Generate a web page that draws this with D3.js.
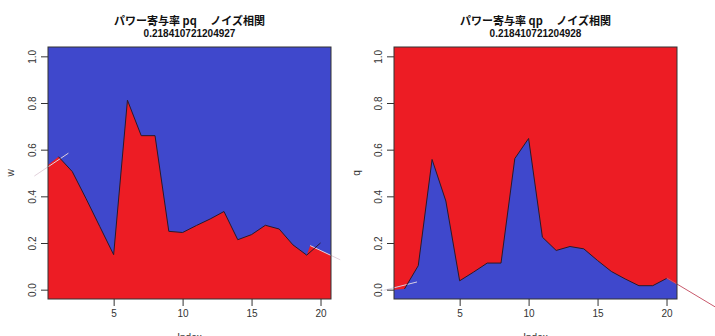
<!DOCTYPE html>
<html>
<head>
<meta charset="utf-8" />
<title>パワー寄与率</title>
<script src="https://d3js.org/d3.v7.min.js"></script>
<style>
  body { margin: 0; background: #fff; }
  .tick text { font-family: "Liberation Sans", Arial, sans-serif; font-size: 10px; fill: #333; }
  .title { font-family: "Noto Sans CJK JP", sans-serif; font-weight: bold; font-size: 11px; fill: #111; }
  .sub { font-family: "Liberation Sans", Arial, sans-serif; font-weight: bold; font-size: 10px; fill: #111; }
  .lab { font-family: "Liberation Sans", Arial, sans-serif; font-size: 10px; fill: #333; }
</style>
</head>
<body>
<script>
// index 1..20
var idx = d3.range(1, 21);

// power contribution pq (red area, left panel)
var w = [0.57, 0.506, 0.39, 0.27, 0.15, 0.812, 0.66, 0.66, 0.25, 0.245,
         0.275, 0.303, 0.335, 0.214, 0.236, 0.276, 0.26, 0.192, 0.148, 0.2];
// power contribution qp (blue area, right panel)
var q = [0.003, 0.103, 0.558, 0.38, 0.038, 0.075, 0.114, 0.114, 0.562, 0.648,
         0.225, 0.168, 0.185, 0.175, 0.125, 0.078, 0.046, 0.017, 0.017, 0.048];

// stray edge segments [x, value] at both ends of each panel
var wEdgeL = [[-0.75, 0.487], [1.72, 0.585]];
var wEdgeR = [[19.25, 0.189], [21.43, 0.128]];
var qEdgeL = [[-0.51, -0.003], [1.91, 0.033]];
var qEdgeR = [[20.03, 0.05], [23.53, -0.074]];

var yTicks = [0, 0.2, 0.4, 0.6, 0.8, 1.0];
var xTicks = [5, 10, 15, 20];

var titles = ["パワー寄与率 pq\u3000 ノイズ相関", "パワー寄与率 qp\u3000 ノイズ相関"];
var subs = ["0.218410721204927", "0.218410721204928"];
var ylabs = ["w", "q"];

var BLUE = "#3f48cc", RED = "#ed1c24";

var svg = d3.select("body").append("svg")
    .attr("width", 715).attr("height", 336);

function panel(k, left, vals, edgeL, edgeR, bg, fg, edgeColL, edgeColR) {
  var top = 47, bottom = 299, right = left + 283;
  var x = d3.scaleLinear().domain([0.24, 20.76]).range([left, right]);
  var y = d3.scaleLinear().domain([-0.04, 1.04]).range([bottom, top]);
  var g = svg.append("g");

  var cid = "clip" + k;
  g.append("clipPath").attr("id", cid).append("rect")
    .attr("x", left).attr("y", top).attr("width", right - left).attr("height", bottom - top);

  g.append("rect").attr("x", left).attr("y", top)
    .attr("width", right - left).attr("height", bottom - top).attr("fill", bg);

  // filled area under the boundary
  var bnd = [edgeL[0]];
  vals.forEach(function(v, i) {
    if (k == 0 && i == vals.length - 1) return;
    bnd.push([idx[i], v]);
  });
  if (k == 0) bnd.push(edgeR[0]);
  bnd.push(edgeR[1]);
  var area = d3.area()
    .x(function(d) { return x(d[0]); })
    .y0(y(-0.2))
    .y1(function(d) { return y(d[1]); });
  g.append("path").datum(bnd).attr("d", area)
    .attr("fill", fg).attr("clip-path", "url(#" + cid + ")");

  // stray segments
  var seg = d3.line().x(function(d) { return x(d[0]); }).y(function(d) { return y(d[1]); });
  g.append("path").datum(edgeL).attr("d", seg).attr("fill", "none")
    .attr("stroke", edgeColL).attr("stroke-width", 1);
  g.append("path").datum(edgeR).attr("d", seg).attr("fill", "none")
    .attr("stroke", edgeColR).attr("stroke-width", 1);

  // data line
  var line = d3.line().x(function(d, i) { return x(idx[i]); }).y(function(d) { return y(d); });
  g.append("path").datum(vals).attr("d", line).attr("fill", "none")
    .attr("stroke", "#2a1a2a").attr("stroke-width", 1);

  g.append("rect").attr("x", left).attr("y", top)
    .attr("width", right - left).attr("height", bottom - top)
    .attr("fill", "none").attr("stroke", "#333").attr("stroke-width", 1);

  // axes
  var ya = g.append("g").attr("transform", "translate(" + left + ",0)")
    .call(d3.axisLeft(y).tickValues(yTicks).tickFormat(d3.format(".1f")).tickSizeOuter(0).tickSize(7));
  ya.select(".domain").remove();
  ya.selectAll("line").attr("stroke", "#333");
  ya.selectAll("text")
    .attr("text-anchor", "middle").attr("x", -12).attr("y", 0).attr("dy", 0)
    .attr("transform", "rotate(-90,-12,0)");

  var xa = g.append("g").attr("transform", "translate(0," + bottom + ")")
    .call(d3.axisBottom(x).tickValues(xTicks).tickSizeOuter(0).tickSize(7).tickPadding(4));
  xa.select(".domain").remove();
  xa.selectAll("line").attr("stroke", "#333");

  var cx = (left + right) / 2;
  g.append("text").attr("class", "title").attr("x", cx).attr("y", 25)
    .attr("text-anchor", "middle").text(titles[k]);
  g.append("text").attr("class", "sub").attr("x", cx).attr("y", 36.5)
    .attr("text-anchor", "middle").text(subs[k]);
  g.append("text").attr("class", "lab").attr("x", cx).attr("y", 340.5)
    .attr("text-anchor", "middle").text("Index");
  g.append("text").attr("class", "lab")
    .attr("transform", "translate(" + (left - 34) + "," + ((top + bottom) / 2) + ") rotate(-90)")
    .attr("text-anchor", "middle").text(ylabs[k]);
}

panel(0, 48, w, wEdgeL, wEdgeR, BLUE, RED, "#e2d2dc", "#e2d2dc");
panel(1, 394, q, qEdgeL, qEdgeR, RED, BLUE, "#d8d0e4", "#c85a6c");
</script>
</body>
</html>
